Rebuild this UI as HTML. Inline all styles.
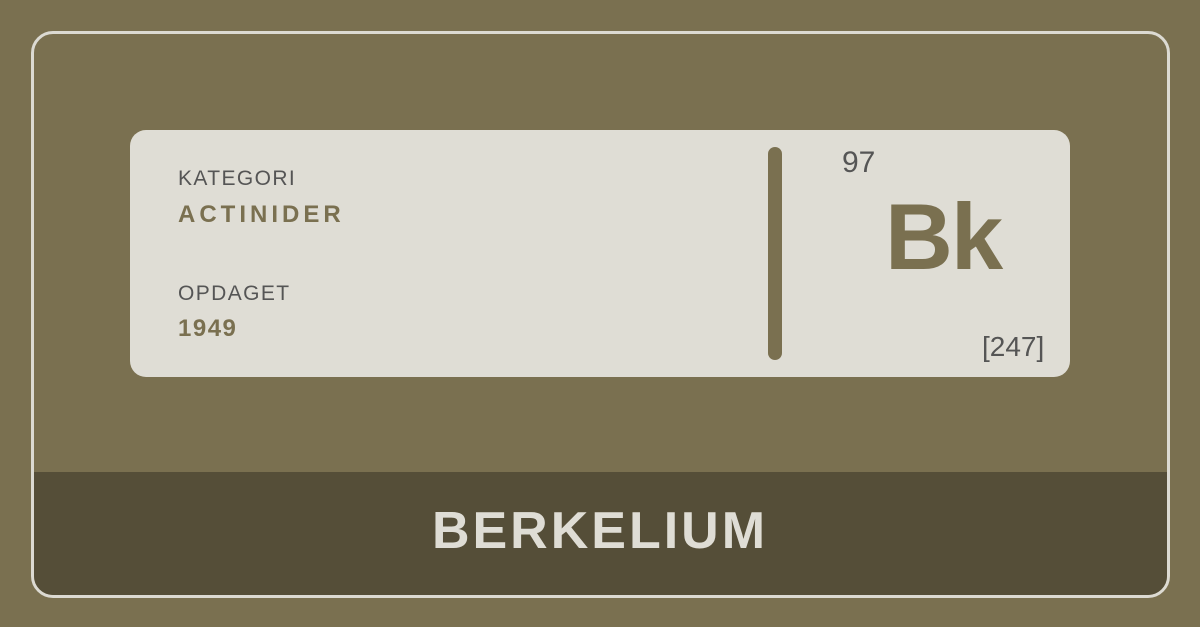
<!DOCTYPE html>
<html><head><meta charset="utf-8"><style>
html,body{margin:0;padding:0;}
body{width:1200px;height:627px;background:#7a7050;position:relative;overflow:hidden;font-family:"Liberation Sans",sans-serif;}
.abs{position:absolute;}
#frame{left:31px;top:31px;width:1133px;height:561px;border:3px solid #dcdad2;border-radius:22px;overflow:hidden;}
#band{left:0;top:438px;width:1133px;height:123px;background:#554e38;}
#card{left:130px;top:130px;width:940px;height:247px;background:#dfddd5;border-radius:16px;}
#bar{left:768px;top:147px;width:14px;height:213px;background:#7a7050;border-radius:7px;}
.lbl{color:#555;font-size:21px;letter-spacing:1.4px;}
.val{color:#7a7050;font-size:24px;font-weight:bold;letter-spacing:4px;}
</style></head><body>
<div id="frame" class="abs">
  <div id="band" class="abs"></div>
</div>
<div id="card" class="abs"></div>
<div id="bar" class="abs"></div>
<div class="abs lbl" style="left:178px;top:167px;">KATEGORI</div>
<div class="abs val" style="left:178px;top:201px;">ACTINIDER</div>
<div class="abs lbl" style="left:178px;top:282px;">OPDAGET</div>
<div class="abs val" style="left:178px;top:315px;letter-spacing:1.5px;">1949</div>
<div class="abs" style="left:842px;top:146px;font-size:30px;color:#555;">97</div>
<div class="abs" style="left:885px;top:190px;font-size:94px;font-weight:bold;color:#7a7050;line-height:1;letter-spacing:-2px;">Bk</div>
<div class="abs" style="left:982px;top:331px;font-size:28px;color:#555;">[247]</div>
<div class="abs" style="left:0;width:1200px;top:505px;text-align:center;font-size:52px;font-weight:bold;color:#dfddd5;letter-spacing:3px;line-height:1;">BERKELIUM</div>
</body></html>
